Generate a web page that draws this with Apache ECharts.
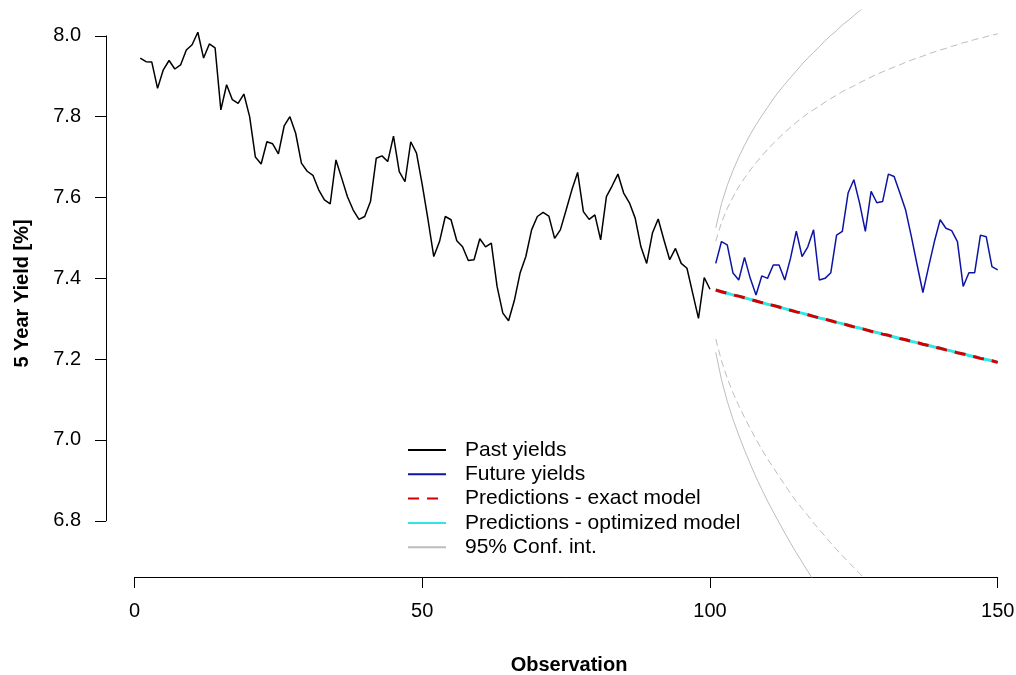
<!DOCTYPE html>
<html>
<head>
<meta charset="utf-8">
<script src="https://cdn.jsdelivr.net/npm/echarts@6/dist/echarts.min.js"></script>
<style>
  html, body { margin: 0; padding: 0; background: #ffffff; }
  #chart { width: 1016px; height: 675px; }
</style>
</head>
<body>
<div id="chart"></div>
<script>
// Observed 5-year yields, observations 1..100
const pastYields = [
  7.945, 7.936, 7.935, 7.870, 7.916, 7.939, 7.918, 7.928, 7.965, 7.978,
  8.009, 7.945, 7.980, 7.970, 7.817, 7.879, 7.842, 7.833, 7.856, 7.800,
  7.700, 7.683, 7.738, 7.733, 7.708, 7.777, 7.800, 7.759, 7.685, 7.665,
  7.655, 7.619, 7.594, 7.584, 7.693, 7.648, 7.602, 7.569, 7.546, 7.553,
  7.590, 7.697, 7.703, 7.689, 7.752, 7.664, 7.639, 7.738, 7.710, 7.631,
  7.545, 7.454, 7.491, 7.553, 7.545, 7.493, 7.478, 7.444, 7.446, 7.498,
  7.478, 7.487, 7.380, 7.314, 7.295, 7.345, 7.413, 7.454, 7.520, 7.553,
  7.563, 7.554, 7.499, 7.520, 7.569, 7.619, 7.662, 7.565, 7.546, 7.557,
  7.495, 7.602, 7.629, 7.658, 7.611, 7.587, 7.549, 7.478, 7.437, 7.512,
  7.547, 7.495, 7.446, 7.474, 7.437, 7.425, 7.363, 7.301, 7.402, 7.373
];
const pastStart = 1;

// Realised yields over the forecast horizon, observations 101..150
const futureYields = [
  7.437, 7.491, 7.483, 7.413, 7.396, 7.452, 7.400, 7.359, 7.406, 7.400,
  7.433, 7.433, 7.396, 7.450, 7.517, 7.454, 7.478, 7.520, 7.396, 7.400,
  7.414, 7.507, 7.516, 7.611, 7.644, 7.586, 7.516, 7.615, 7.587, 7.590,
  7.658, 7.652, 7.611, 7.569, 7.503, 7.433, 7.365, 7.429, 7.491, 7.545,
  7.524, 7.518, 7.491, 7.380, 7.414, 7.414, 7.507, 7.503, 7.429, 7.421
];
const futureStart = 101;

// Point forecasts, observations 101..150
const predExact = [
  7.371, 7.367, 7.363, 7.359, 7.356, 7.352, 7.348, 7.344, 7.340, 7.336,
  7.333, 7.329, 7.325, 7.321, 7.317, 7.314, 7.310, 7.306, 7.302, 7.299,
  7.295, 7.291, 7.288, 7.284, 7.280, 7.277, 7.273, 7.269, 7.266, 7.262,
  7.259, 7.255, 7.251, 7.248, 7.244, 7.241, 7.237, 7.234, 7.230, 7.227,
  7.223, 7.220, 7.216, 7.213, 7.209, 7.206, 7.202, 7.199, 7.196, 7.192
];
const predOptimized = [
  7.371, 7.367, 7.363, 7.359, 7.356, 7.352, 7.348, 7.344, 7.340, 7.336,
  7.333, 7.329, 7.325, 7.321, 7.317, 7.314, 7.310, 7.306, 7.302, 7.299,
  7.295, 7.291, 7.288, 7.284, 7.280, 7.277, 7.273, 7.269, 7.266, 7.262,
  7.259, 7.255, 7.251, 7.248, 7.244, 7.241, 7.237, 7.234, 7.230, 7.227,
  7.223, 7.220, 7.216, 7.213, 7.209, 7.206, 7.202, 7.199, 7.196, 7.192
];

// 95% bounds from observation 101 onward (exact model: solid, optimized: dashed)
const ciExactUpper = [
  7.525, 7.585, 7.630, 7.667, 7.700, 7.729, 7.756, 7.780, 7.802, 7.823,
  7.844, 7.863, 7.880, 7.897, 7.913, 7.930, 7.945, 7.959, 7.973, 7.988,
  8.001, 8.013, 8.027, 8.038, 8.050, 8.062, 8.073, 8.084
];
const ciExactLower = [
  7.217, 7.149, 7.096, 7.051, 7.012, 6.975, 6.941, 6.908, 6.878, 6.849,
  6.822, 6.796, 6.770, 6.745, 6.721, 6.698, 6.675, 6.653, 6.631
];
const ciOptUpper = [
  7.492, 7.538, 7.573, 7.601, 7.627, 7.648, 7.668, 7.686, 7.703, 7.719,
  7.734, 7.748, 7.761, 7.774, 7.786, 7.797, 7.808, 7.817, 7.826, 7.836,
  7.845, 7.853, 7.862, 7.869, 7.876, 7.884, 7.891, 7.898, 7.905, 7.911,
  7.917, 7.923, 7.928, 7.935, 7.940, 7.945, 7.950, 7.956, 7.960, 7.965,
  7.969, 7.974, 7.978, 7.983, 7.986, 7.991, 7.994, 7.998, 8.002, 8.005
];
const ciOptLower = [
  7.250, 7.196, 7.153, 7.117, 7.085, 7.056, 7.028, 7.002, 6.977, 6.953,
  6.932, 6.910, 6.889, 6.868, 6.848, 6.831, 6.813, 6.795, 6.778, 6.762,
  6.745, 6.729, 6.714, 6.699, 6.684, 6.670, 6.655, 6.641
];

// Axis ticks
const xTicks = [0, 50, 100, 150];
const yTicks = [6.8, 7.0, 7.2, 7.4, 7.6, 7.8, 8.0];

const seriesNames = {
  past: 'Past yields',
  future: 'Future yields',
  exact: 'Predictions - exact model',
  optimized: 'Predictions - optimized model',
  ci: '95% Conf. int.'
};

const FONT = '"Liberation Sans", Arial, Helvetica, sans-serif';
const toPairs = (values, start) => values.map((v, i) => [start + i, v]);

// Plot region: data range padded by 4% on each side
const xLo = pastStart, xHi = futureStart + futureYields.length - 1;
const xPad = (xHi - xLo) * 0.04;
const yLo = 6.713, yHi = 8.012;
const yPad = (yHi - yLo) * 0.04;

const chart = echarts.init(document.getElementById('chart'), null, { renderer: 'canvas' });

const lineSeries = (name, data, color, width, dash, z) => ({
  name, type: 'line', xAxisIndex: 0, yAxisIndex: 0,
  data, symbol: 'none', showSymbol: false, silent: true, clip: true, z,
  color,
  lineStyle: { color, width, type: dash || 'solid', cap: 'butt' },
  emphasis: { disabled: true }
});

const gray = '#bdbdbd';

chart.setOption({
  animation: false,
  backgroundColor: '#ffffff',
  textStyle: { fontFamily: FONT },
  grid: [
    // plot region (clipping area for the data lines); it runs past the right edge
    { left: 106, width: 926, top: 10, height: 567, containLabel: false, outerBoundsMode: 'none' },
    // frame carrying the drawn axes (tick range only)
    { left: 134.5, width: 863.2, top: 35.9, height: 484.9, containLabel: false, outerBoundsMode: 'none' }
  ],
  legend: {
    orient: 'vertical',
    left: 402,
    top: 434,
    itemWidth: 38,
    itemHeight: 2,
    itemGap: 2.3,
    selectedMode: false,
    itemStyle: { opacity: 0 },
    textStyle: { fontFamily: FONT, fontSize: 21, color: '#000', lineHeight: 22, padding: [0, 0, 0, 14] },
    data: [seriesNames.past, seriesNames.future, seriesNames.exact, seriesNames.optimized, seriesNames.ci]
  },
  xAxis: [
    {
      gridIndex: 0, type: 'value', min: xLo - xPad, max: xHi + xPad,
      axisLine: { show: false, onZero: false }, axisTick: { show: false }, axisLabel: { show: false }, splitLine: { show: false },
      name: 'Observation', nameLocation: 'middle', nameGap: 78,
      nameTextStyle: { fontFamily: FONT, fontSize: 20, fontWeight: 'bold', color: '#000' }
    },
    {
      gridIndex: 1, type: 'value', position: 'bottom',
      min: xTicks[0], max: xTicks[xTicks.length - 1], interval: xTicks[1] - xTicks[0],
      offset: 56.2,
      axisLine: { show: true, onZero: false, lineStyle: { color: '#000', width: 1 } },
      axisTick: { show: true, inside: false, length: 11, lineStyle: { color: '#000', width: 1 } },
      axisLabel: { show: true, margin: 24, fontFamily: FONT, fontSize: 20, color: '#000' },
      splitLine: { show: false }
    }
  ],
  yAxis: [
    {
      gridIndex: 0, type: 'value', min: yLo - yPad, max: yHi + yPad,
      axisLine: { show: false, onZero: false }, axisTick: { show: false }, axisLabel: { show: false }, splitLine: { show: false },
      name: '5 Year Yield [%]', nameLocation: 'middle', nameGap: 74, nameRotate: 90,
      nameTextStyle: { fontFamily: FONT, fontSize: 20, fontWeight: 'bold', color: '#000' }
    },
    {
      gridIndex: 1, type: 'value', position: 'left',
      min: yTicks[0], max: yTicks[yTicks.length - 1], interval: 0.2,
      offset: 28.5,
      axisLine: { show: true, onZero: false, lineStyle: { color: '#000', width: 1 } },
      axisTick: { show: true, inside: false, length: 11, lineStyle: { color: '#000', width: 1 } },
      axisLabel: { show: true, margin: 25, fontFamily: FONT, fontSize: 20, color: '#000',
        formatter: v => v.toFixed(1) },
      splitLine: { show: false }
    }
  ],
  series: [
    lineSeries(seriesNames.ci, toPairs(ciExactUpper, futureStart), gray, 1, 'solid', 1),
    lineSeries(seriesNames.ci, toPairs(ciExactLower, futureStart), gray, 1, 'solid', 1),
    lineSeries(seriesNames.ci, toPairs(ciOptUpper, futureStart), gray, 1, [7, 4], 1),
    lineSeries(seriesNames.ci, toPairs(ciOptLower, futureStart), gray, 1, [7, 4], 1),
    lineSeries(seriesNames.past, toPairs(pastYields, pastStart), '#000000', 1.5, 'solid', 2),
    lineSeries(seriesNames.future, toPairs(futureYields, futureStart), '#0d14a3', 1.5, 'solid', 2),
    lineSeries(seriesNames.optimized, toPairs(predOptimized, futureStart), '#2ee6e6', 3, 'solid', 3),
    lineSeries(seriesNames.exact, toPairs(predExact, futureStart), '#d40000', 3, [11, 8], 4)
  ]
});
</script>
</body>
</html>
